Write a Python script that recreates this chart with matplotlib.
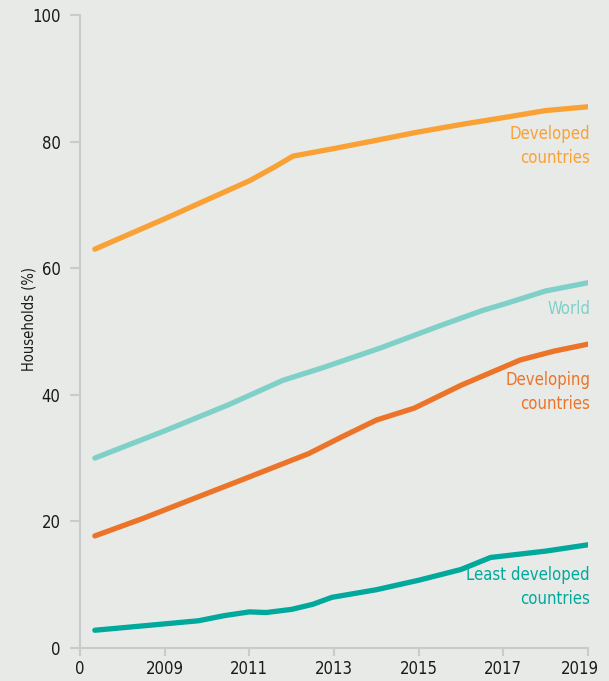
import matplotlib.pyplot as plt
from matplotlib.transforms import ScaledTranslation

# values (year, % of households)
dev_years = [2007.35, 2008.0, 2009.0, 2010.0, 2011.0, 2011.6, 2012.03, 2013.0, 2014.0, 2014.9, 2016.0, 2017.2, 2018.0, 2019.0]
developed = [63.0, 64.9, 67.8, 70.8, 73.8, 76.0, 77.7, 78.9, 80.2, 81.4, 82.7, 84.0, 84.9, 85.5]

world_years = [2007.35, 2008.0, 2009.0, 2010.5, 2011.8, 2012.7, 2014.1, 2015.5, 2016.5, 2017.1, 2018.0, 2019.0]
world = [30.0, 31.7, 34.3, 38.4, 42.3, 44.2, 47.4, 50.9, 53.3, 54.5, 56.4, 57.7]

devg_years = [2007.35, 2008.5, 2009.8, 2010.8, 2011.6, 2012.4, 2013.2, 2014.0, 2014.9, 2016.0, 2017.4, 2018.2, 2019.0]
developing = [17.7, 20.5, 23.9, 26.5, 28.6, 30.7, 33.4, 36.0, 37.9, 41.5, 45.5, 46.9, 48.0]

ldc_years = [2007.35, 2008.5, 2009.8, 2010.4, 2011.0, 2011.4, 2012.0, 2012.5, 2012.95, 2014.0, 2015.0, 2016.0, 2016.7, 2018.0, 2019.0]
least_dev = [2.8, 3.5, 4.3, 5.1, 5.7, 5.6, 6.1, 6.9, 8.0, 9.2, 10.7, 12.4, 14.3, 15.3, 16.3]

x_ticks = [2007, 2009, 2011, 2013, 2015, 2017, 2019]
x_labels = ["0", "2009", "2011", "2013", "2015", "2017", "2019"]
y_ticks = [0, 20, 40, 60, 80, 100]

bg = "#e8eae7"
c_developed = "#f9a135"
c_world = "#7fd0c9"
c_developing = "#ec7429"
c_ldc = "#00a99c"
grey = "#c9cbcc"

plt.rcParams['font.family'] = ['DejaVu Sans']
plt.rcParams['font.stretch'] = 'condensed'

fig = plt.figure(figsize=(6.09, 6.81), dpi=100, facecolor=bg)
ax = fig.add_axes([0.1314, 0.0485, 0.8341, 0.9295], facecolor=bg)

lw = 3.8
for xs, ys, c in [(dev_years, developed, c_developed),
                  (world_years, world, c_world),
                  (devg_years, developing, c_developing),
                  (ldc_years, least_dev, c_ldc)]:
    ax.plot(xs, ys, color=c, lw=lw, solid_capstyle="round", solid_joinstyle="round")

# series labels
fs = 12
ls = 1.45
ax.text(2019.05, 79.3, "Developed\ncountries", color=c_developed, fontsize=fs, ha="right", va="center", linespacing=ls)
ax.text(2019.05, 53.6, "World", color=c_world, fontsize=fs, ha="right", va="center")
ax.text(2019.05, 40.4, "Developing\ncountries", color=c_developing, fontsize=fs, ha="right", va="center", linespacing=ls)
ax.text(2019.05, 9.6, "Least developed\ncountries", color=c_ldc, fontsize=fs, ha="right", va="center", linespacing=ls)

ax.set_xlim(2007, 2019)
ax.set_ylim(0, 100)
ax.set_xticks(x_ticks)
ax.set_xticklabels(x_labels)
ax.set_yticks(y_ticks)
ax.tick_params(axis="both", colors=grey, labelcolor="#1a1a1a", labelsize=12, width=1.5)
ax.tick_params(axis="y", length=7, pad=7)
ax.tick_params(axis="x", length=6, pad=3)
ax.set_ylabel("Households (%)", fontsize=10.5, color="#1a1a1a")
ax.yaxis.set_label_coords(-0.085, 0.52)

# last year label sits a bit left of its tick
last = ax.get_xticklabels()[-1]
last.set_transform(last.get_transform() + ScaledTranslation(-8 / 100, 0, fig.dpi_scale_trans))

for side in ["top", "right"]:
    ax.spines[side].set_visible(False)
for side in ["left", "bottom"]:
    ax.spines[side].set_color(grey)
    ax.spines[side].set_linewidth(1.5)

fig.savefig("out.png", dpi=100, facecolor=bg)
